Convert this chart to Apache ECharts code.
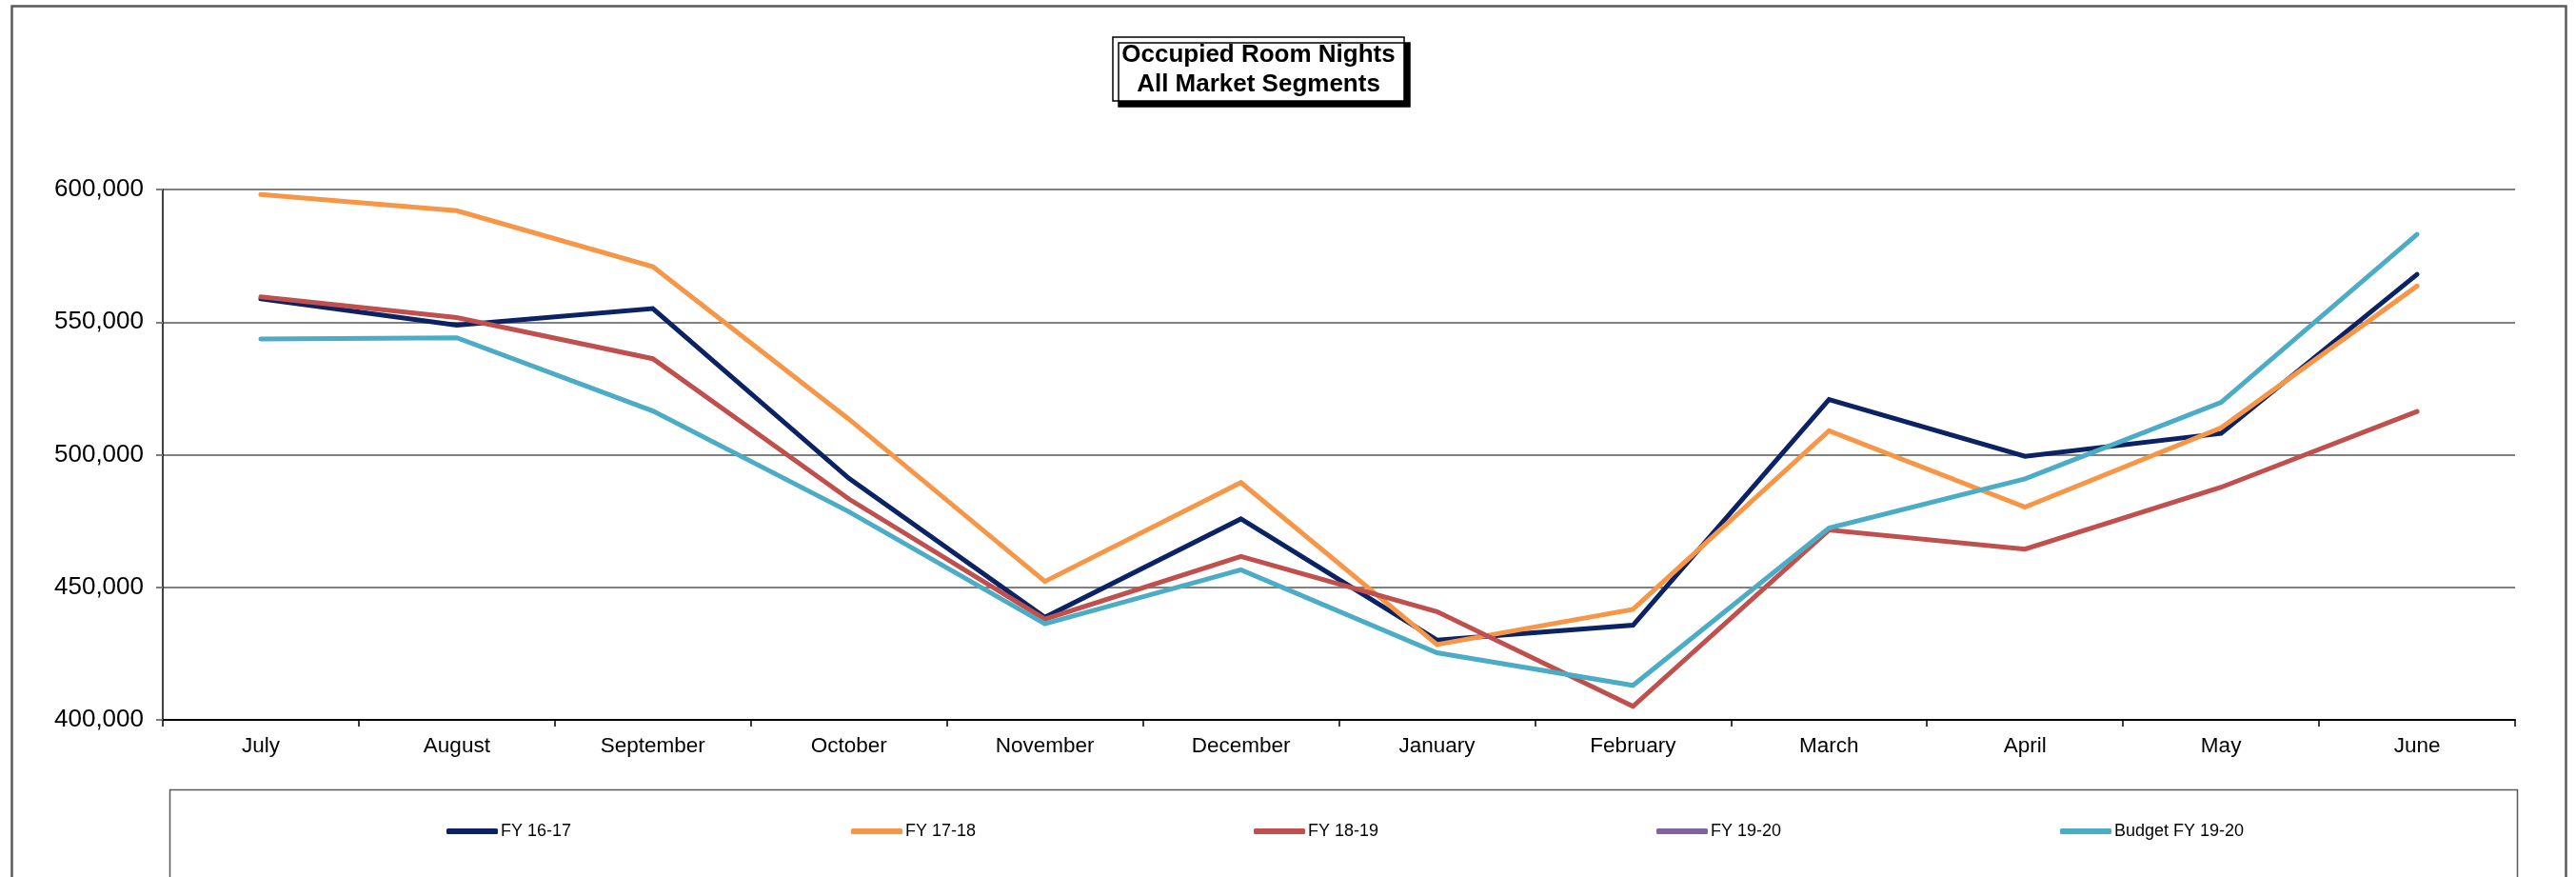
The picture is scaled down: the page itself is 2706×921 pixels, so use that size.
<!DOCTYPE html>
<html>
<head>
<meta charset="utf-8">
<script src="https://cdn.jsdelivr.net/npm/echarts@6/dist/echarts.min.js"></script>
<style>
html,body{margin:0;padding:0;background:#fff;}
#chart{width:2706px;height:921px;}
</style>
</head>
<body>
<div id="chart"></div>
<script>
const categories = ['July','August','September','October','November','December','January','February','March','April','May','June'];
const fy1617 = [558800, 548800, 555100, 491100, 438700, 475800, 430100, 435700, 520800, 499400, 508000, 568000];
const fy1718 = [598100, 592000, 570900, 513400, 452200, 489500, 428400, 441700, 509000, 480200, 510100, 563600];
const fy1819 = [559500, 551700, 536200, 483300, 438000, 461600, 440800, 405100, 471600, 464400, 487700, 516300];
const fy1920 = [null, null, null, null, null, null, null, null, null, null, null, null];
const budget1920 = [543600, 544100, 516500, 478500, 436200, 456600, 425300, 413000, 472300, 490900, 519700, 583100];
const seriesNames = ['FY 16-17','FY 17-18','FY 18-19','FY 19-20','Budget FY 19-20'];
const seriesColors = ['#0B2265','#F79646','#C0504D','#8064A2','#4BACC6'];
const seriesData = [fy1617, fy1718, fy1819, fy1920, budget1920];
const yTicks = {min: 400000, max: 600000, interval: 50000};

const FONT = '"Liberation Sans", Arial, sans-serif';
const chart = echarts.init(document.getElementById('chart'), null, {renderer: 'canvas'});

const legendLefts = [469, 894, 1317, 1740, 2164];

const option = {
  backgroundColor: '#ffffff',
  animation: false,
  title: {
    text: 'Occupied Room Nights\nAll Market Segments',
    left: 1312,
    top: 39,
    textAlign: 'center',
    padding: [3, 10, 2, 10],
    backgroundColor: '#ffffff',
    borderColor: '#000000',
    borderWidth: 1.5,
    shadowColor: '#000000',
    shadowBlur: 0,
    shadowOffsetX: 6,
    shadowOffsetY: 6,
    textStyle: {
      fontFamily: FONT,
      fontWeight: 'bold',
      fontSize: 26,
      lineHeight: 31,
      color: '#000000'
    }
  },
  graphic: [
    {type: 'rect', left: 10, top: 4, z: -10, silent: true,
     shape: {width: 2683, height: 1000},
     style: {fill: null, stroke: '#5a5a5a', lineWidth: 2.5}},
    {type: 'rect', left: 176, top: 827, z: -10, silent: true,
     shape: {width: 2466, height: 200},
     style: {fill: null, stroke: '#5a5a5a', lineWidth: 1.5}}
  ],
  legend: seriesNames.map((n, i) => ({
    data: [n],
    left: legendLefts[i],
    top: 864,
    padding: 0,
    itemWidth: 54,
    itemHeight: 6,
    icon: 'roundRect',
    itemGap: 0,
    selectedMode: false,
    textStyle: {fontFamily: FONT, fontSize: 18, color: '#000000', padding: [0,0,0,-2]}
  })),
  grid: {left: 171, right: 64, top: 199, bottom: 165, containLabel: false},
  xAxis: {
    type: 'category',
    data: categories,
    boundaryGap: true,
    axisLine: {show: true, lineStyle: {color: '#000000', width: 2}},
    axisTick: {show: true, length: 7, lineStyle: {color: '#000000', width: 1.5}},
    axisLabel: {fontFamily: FONT, fontSize: 22.5, color: '#000000', margin: 16},
    splitLine: {show: false}
  },
  yAxis: {
    type: 'value',
    min: yTicks.min,
    max: yTicks.max,
    interval: yTicks.interval,
    axisLine: {show: true, lineStyle: {color: '#000000', width: 1.5}},
    axisTick: {show: true, length: 7, lineStyle: {color: '#808080', width: 2}},
    axisLabel: {
      fontFamily: FONT, fontSize: 26, color: '#000000', margin: 20,
      formatter: v => v.toLocaleString('en-US')
    },
    splitLine: {show: true, lineStyle: {color: '#808080', width: 2}}
  },
  series: seriesNames.map((n, i) => ({
    name: n,
    type: 'line',
    data: seriesData[i],
    symbol: 'none',
    color: seriesColors[i],
    lineStyle: {color: seriesColors[i], width: 5, cap: 'round', join: 'miter'},
    itemStyle: {color: seriesColors[i]},
    connectNulls: false
  }))
};
chart.setOption(option);
</script>
</body>
</html>
